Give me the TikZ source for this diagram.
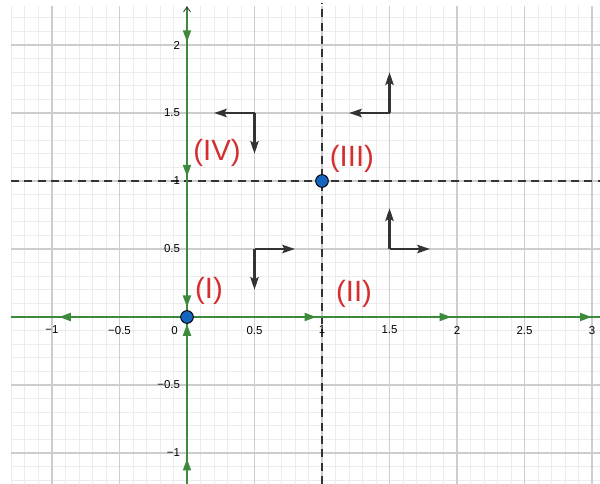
\documentclass[tikz,border=0pt]{standalone}
\usepackage{fontspec}
\setmainfont{Liberation Sans}
\usetikzlibrary{arrows.meta}
\definecolor{gr}{RGB}{61,138,61}
\definecolor{minorc}{RGB}{236,236,236}
\definecolor{majorc}{RGB}{205,205,205}
\definecolor{vecc}{RGB}{51,51,51}
\definecolor{labc}{RGB}{211,47,47}
\definecolor{dotc}{RGB}{21,101,192}
\newcommand{\mns}{\char"2212\relax}
\begin{document}
\begin{tikzpicture}[x=101.25pt,y=102pt,
  minorgrid/.style={draw=minorc,line width=0.75pt},
  majorgrid/.style={draw=majorc,line width=0.9pt},
  axisline/.style={draw=gr,line width=1.9pt},
  gtip/.style={draw=gr,line width=1.9pt,-{Triangle[length=9pt,width=5.8pt]}},
  sep/.style={draw=vecc,line width=1.6pt,dash pattern=on 6pt off 4pt},
  vecarrow/.style={draw=vecc,line width=1.6pt,-{Stealth[length=9.5pt,width=6.2pt,inset=1.6pt]}},
  tick/.style={font=\fontsize{8.6}{10}\selectfont,inner sep=0pt},
  region/.style={text=labc,font=\fontsize{22}{25}\selectfont,inner sep=0pt},
  eqpt/.style={circle,fill=dotc,draw=black,line width=0.7pt,minimum size=9.5pt,inner sep=0pt}]
\useasboundingbox (-1.3852,-1.2279) rectangle (3.0593,2.3309);
% grid
\foreach \i in {-13,...,30} {
  \pgfmathsetmacro{\xx}{\i/10}
  \draw[minorgrid] (\xx,-1.2279) -- (\xx,2.287);
}
\foreach \j in {-12,...,22} {
  \pgfmathsetmacro{\yy}{\j/10}
  \draw[minorgrid] (-1.304,\yy) -- (3.0593,\yy);
}
\foreach \xx in {-1,-0.5,0,0.5,1,1.5,2,2.5,3}
  \draw[majorgrid] (\xx,-1.2279) -- (\xx,2.287);
\foreach \yy in {-1,-0.5,0,0.5,1,1.5,2}
  \draw[majorgrid] (-1.304,\yy) -- (3.0593,\yy);
% coordinates
\coordinate (xl) at (-1.304,0);
\coordinate (xr) at (3.0593,0);
\coordinate (yb) at (0,-1.2279);
\coordinate (yt) at (0,2.279);
\coordinate (O) at (0,0);
\coordinate (P) at (1,1);
% separatrices
\draw[sep] (1,-1.2279) -- (1,2.31);
\draw[sep] (-1.304,1) -- (3.0593,1);
% axes
\draw[axisline] (xl) -- (xr);
\draw[axisline] (yb) -- (yt);
\draw[vecc,line width=0.6pt] ([xshift=-2.6pt,yshift=-3.6pt]yt) -- (yt) -- ([xshift=2.6pt,yshift=-3.6pt]yt);
% green flow tips
\draw[gtip] (-0.85,0) -- (-0.95,0);
\draw[gtip] (0.86,0) -- (0.96,0);
\draw[gtip] (1.86,0) -- (1.96,0);
\draw[gtip] (2.90,0) -- (3.00,0);
\draw[gtip] (0,2.12) -- (0,2.02);
\draw[gtip] (0,1.13) -- (0,1.03);
\draw[gtip] (0,0.17) -- (0,0.07);
\draw[gtip] (0,-0.15) -- (0,-0.05);
\draw[gtip] (0,-1.14) -- (0,-1.04);
% direction vectors
\foreach \px/\py/\dx/\dy in {0.5/1.5/-1/-1, 1.5/1.5/-1/1, 0.5/0.5/1/-1, 1.5/0.5/1/1} {
  \coordinate (v) at (\px,\py);
  \draw[vecarrow] (v) -- ++(0.3*\dx,0);
  \draw[vecarrow] (v) -- ++(0,0.3*\dy);
}
% equilibrium points
\node[eqpt] (e0) at (O) {};
\node[eqpt] (e1) at (P) {};
% tick labels
\foreach \xx/\t in {-1/{\mns1},-0.5/{\mns0.5},0.5/0.5,1/1,1.5/1.5,2/2,2.5/2.5,3/3}
  \node[tick] at (\xx,-0.096) {\t};
\node[tick] (z) at (-0.093,-0.096) {0};
\foreach \yy/\t in {2/2,1.5/1.5,1/1,0.5/0.5,-0.5/{\mns0.5},-1/{\mns1}}
  \node[tick,anchor=east] at (-0.05,\yy) {\t};
% region labels
\node[region] (r4) at (0.222,1.205) {(IV)};
\node[region] (r3) at (1.222,1.165) {(III)};
\node[region] (r1) at (0.163,0.19) {(I)};
\node[region] (r2) at (1.237,0.172) {(II)};
\end{tikzpicture}
\end{document}
